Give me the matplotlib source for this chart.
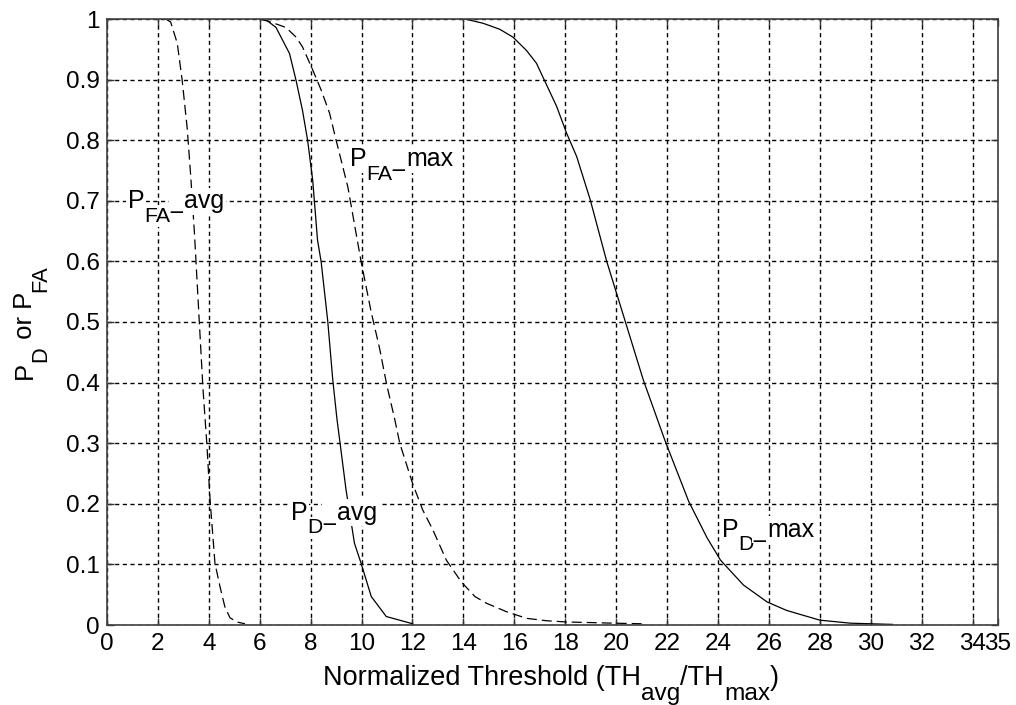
import matplotlib
matplotlib.use("Agg")
import matplotlib.pyplot as plt
from matplotlib.transforms import offset_copy

plt.rcParams['font.family'] = ['Liberation Sans', 'DejaVu Sans']

# Detection / false-alarm probability curves vs normalized threshold
pfa_avg_x = [2.31, 2.5, 2.76, 2.95, 3.15, 3.29, 3.43, 3.6, 3.77, 3.92, 4.05, 4.24, 4.44, 4.63, 4.83, 5.1, 5.42]
pfa_avg_y = [1.0, 0.995, 0.96, 0.9, 0.82, 0.74, 0.65, 0.52, 0.39, 0.3, 0.206, 0.102, 0.063, 0.03, 0.012, 0.005, 0.002]

pd_avg_x = [5.98, 6.3, 6.64, 7.17, 7.43, 7.68, 7.88, 8.08, 8.27, 8.41, 8.67, 8.87, 9.03, 9.39, 9.72, 9.98, 10.38, 10.97, 11.75, 12.0]
pd_avg_y = [1.0, 0.997, 0.986, 0.943, 0.898, 0.849, 0.8, 0.734, 0.635, 0.6, 0.502, 0.404, 0.341, 0.223, 0.135, 0.102, 0.047, 0.014, 0.005, 0.002]

pfa_max_x = [6.06, 6.5, 7.03, 7.43, 7.68, 8.08, 8.41, 8.74, 9.0, 9.46, 9.98, 10.38, 10.71, 10.99, 11.3, 11.5, 12.0, 12.4, 12.8,
             13.33, 13.92, 14.45, 14.9, 15.69, 16.48, 17.27, 18.05, 19.0, 19.9, 21.06]
pfa_max_y = [1.0, 0.994, 0.986, 0.97, 0.954, 0.916, 0.883, 0.845, 0.8, 0.723, 0.6, 0.516, 0.456, 0.396, 0.34, 0.3, 0.234, 0.19, 0.157,
             0.107, 0.071, 0.047, 0.036, 0.022, 0.011, 0.007, 0.005, 0.004, 0.003, 0.002]

pd_max_x = [14.06, 14.77, 15.43, 15.95, 16.48, 16.87, 17.17, 17.66, 18.05, 18.45, 18.98, 19.63, 20.35, 21.07, 21.93, 22.85,
            23.57, 24.1, 25.0, 25.93, 26.7, 28.0, 29.2, 30.85]
pd_max_y = [1.0, 0.993, 0.983, 0.97, 0.948, 0.927, 0.9, 0.856, 0.812, 0.773, 0.702, 0.6, 0.502, 0.404, 0.303, 0.204,
            0.144, 0.107, 0.066, 0.038, 0.024, 0.008, 0.003, 0.001]

x_ticks = list(range(0, 35, 2)) + [35]
y_ticks = [0, 0.1, 0.2, 0.3, 0.4, 0.5, 0.6, 0.7, 0.8, 0.9, 1]
y_tick_labels = ['0', '0.1', '0.2', '0.3', '0.4', '0.5', '0.6', '0.7', '0.8', '0.9', '1']

SUB_SCALE = 0.85
SUB_DROP = 0.55   # subscript baseline drop, in em of the main font

fig = plt.figure(figsize=(10.16, 7.05), dpi=100)
ax = fig.add_axes([107 / 1016, 1 - 625 / 705, 891 / 1016, 606 / 705])
renderer = fig.canvas.get_renderer()


def rich_text(x, y, parts, transform, size, rotation=0, center=False, bbox=None, target=None, sub_scale=SUB_SCALE):
    """Draw a run of text pieces; parts are (string, is_subscript, extra_drop_px)."""
    target = target or fig
    em_px = size * fig.dpi / 72.0
    texts, advances = [], []
    for s, sub, extra in parts:
        fs = size * sub_scale if sub else size
        drop = (SUB_DROP * em_px if sub else 0.0) + extra
        t = target.text(x, y, s, transform=transform, fontsize=fs, rotation=rotation,
                        rotation_mode='anchor', ha='left', va='baseline', bbox=bbox)
        ext = t.get_window_extent(renderer)
        advances.append(ext.width if rotation == 0 else ext.height)
        texts.append((t, drop))
    total = sum(advances)
    start = -total / 2 if center else 0.0
    pos = start
    for (t, drop), adv in zip(texts, advances):
        if rotation == 0:
            ox, oy = pos, -drop
        else:
            ox, oy = drop, pos
        t.set_transform(offset_copy(transform, fig=fig, x=ox, y=oy, units='dots'))
        pos += adv
    return texts


lw = 0.9
ax.plot(pfa_avg_x, pfa_avg_y, color='black', lw=lw, dashes=(8, 4))
ax.plot(pd_avg_x, pd_avg_y, color='black', lw=lw)
ax.plot(pfa_max_x, pfa_max_y, color='black', lw=lw, dashes=(8, 4))
ax.plot(pd_max_x, pd_max_y, color='black', lw=lw)

ax.set_xlim(0, 35)
ax.set_ylim(0, 1)
ax.set_xticks(x_ticks)
ax.set_yticks(y_ticks)
ax.set_yticklabels(y_tick_labels)
ax.tick_params(direction='in', length=5, width=1, labelsize=17.5, colors='#333333', labelcolor='black',
               top=True, right=True)
ax.tick_params(axis='x', pad=6)
ax.tick_params(axis='y', pad=5)
ax.grid(True, color='black', linestyle=(0, (3, 2.5)), linewidth=1.0)
for s in ax.spines.values():
    s.set_color('#404040')
    s.set_linewidth(1.2)

# axis titles
rich_text(551 / 1016, 1 - 685 / 705,
          [('Normalized Threshold (TH', False, 0), ('avg', True, 0), ('/TH', False, 0), ('max', True, 0), (')', False, 0)],
          fig.transFigure, 19.5, center=True, sub_scale=0.9)
rich_text(32 / 1016, 1 - 322 / 705,
          [('P', False, 0), ('D', True, 0), (' or P', False, 0), ('FA', True, 0)],
          fig.transFigure, 18.5, rotation=90, center=True)

# curve labels
box = dict(facecolor='white', edgecolor='none', pad=1.0)
label_specs = [
    (0.82, 0.688, 'FA', 'avg'),
    (9.54, 0.757, 'FA', 'max'),
    (7.23, 0.174, 'D', 'avg'),
    (24.15, 0.146, 'D', 'max'),
]
for lx, ly, sub, tail in label_specs:
    rich_text(lx, ly, [('P', False, 0), (sub, True, 0), ('_', False, 0), (tail, False, 0)],
              ax.transData, 18, bbox=box, target=ax)

fig.savefig('out.png', dpi=100)
